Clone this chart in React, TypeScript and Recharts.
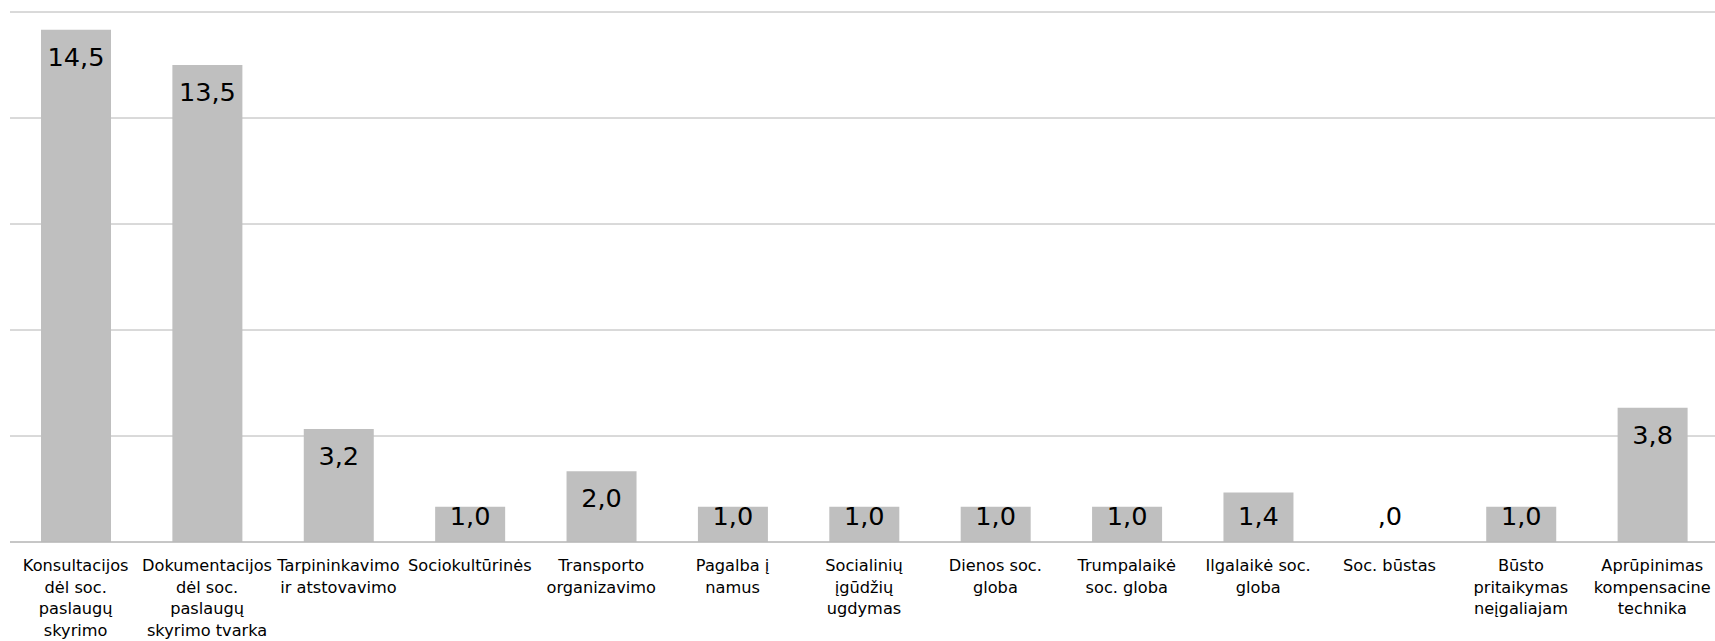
import { Bar, BarChart, CartesianGrid, LabelList, XAxis, YAxis } from "recharts";

const categories = [
  "Konsultacijos\ndėl soc.\npaslaugų\nskyrimo",
  "Dokumentacijos\ndėl soc.\npaslaugų\nskyrimo tvarka",
  "Tarpininkavimo\nir atstovavimo",
  "Sociokultūrinės",
  "Transporto\norganizavimo",
  "Pagalba į\nnamus",
  "Socialinių\nįgūdžių\nugdymas",
  "Dienos soc.\ngloba",
  "Trumpalaikė\nsoc. globa",
  "Ilgalaikė soc.\ngloba",
  "Soc. būstas",
  "Būsto\npritaikymas\nneįgaliajam",
  "Aprūpinimas\nkompensacine\ntechnika",
];

const values = [14.5, 13.5, 3.2, 1.0, 2.0, 1.0, 1.0, 1.0, 1.0, 1.4, 0, 1.0, 3.8];

const yTicks = [0, 3, 6, 9, 12, 15];

const data = categories.map((name, i) => ({ name, value: values[i] }));

const FONT = "Verdana, 'DejaVu Sans', sans-serif";
const GRID = "#b4b4b4";

function fmt(v: number) {
  if (v === 0) return ",0";
  return v.toFixed(1).replace(".", ",");
}

function CategoryTick(props: any) {
  const { x, y, payload } = props;
  const lines = String(payload.value).split("\n");
  return (
    <text
      x={x}
      y={y}
      textAnchor="middle"
      fontFamily={FONT}
      fontSize={16.2}
      fill="#000"
    >
      {lines.map((line, i) => (
        <tspan key={i} x={x} dy={i === 0 ? 21 : 21.7}>
          {line}
        </tspan>
      ))}
    </text>
  );
}

function ValueLabel(props: any) {
  const { x, y, width, height, value } = props;
  const base = Number(y) + Number(height);
  const cy = Math.min(Number(y) + 27, base - 26);
  return (
    <text
      x={Number(x) + Number(width) / 2}
      y={cy}
      textAnchor="middle"
      dominantBaseline="central"
      fontFamily={FONT}
      fontSize={25.6}
      fill="#000"
    >
      {fmt(Number(value))}
    </text>
  );
}

export default function App() {
  return (
    <div style={{ position: "absolute", left: 0, top: 0, background: "#fff" }}>
      <BarChart
        width={1715}
        height={641}
        data={data}
        margin={{ top: 12, right: -3, bottom: 0, left: 10 }}
      >
        <CartesianGrid stroke={GRID} vertical={false} />
        <XAxis
          dataKey="name"
          interval={0}
          height={99}
          tickLine={false}
          axisLine={{ stroke: GRID }}
          tick={<CategoryTick />}
        />
        <YAxis hide domain={[0, 15]} ticks={yTicks} />
        <Bar
          dataKey="value"
          fill="#bfbfbf"
          barSize={70}
          minPointSize={0.01}
          isAnimationActive={false}
        >
          <LabelList dataKey="value" content={<ValueLabel />} />
        </Bar>
      </BarChart>
    </div>
  );
}
